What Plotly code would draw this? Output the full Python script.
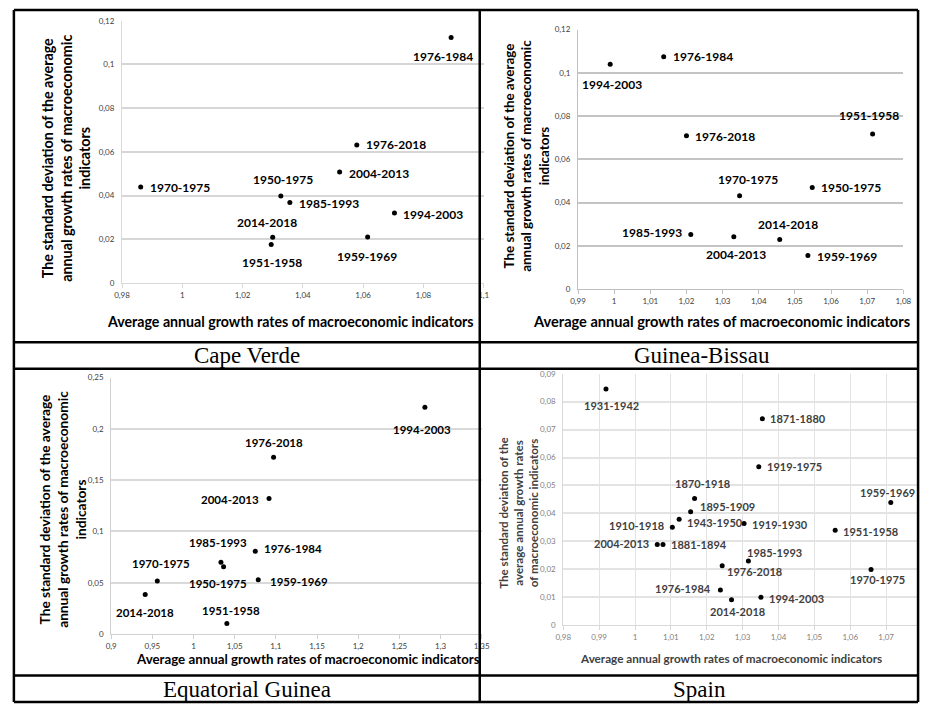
import plotly.graph_objects as go

# ---------------- DATA ----------------
CV_periods = ["1970-1975", "1950-1975", "1985-1993", "2014-2018", "1951-1958",
              "2004-2013", "1976-2018", "1959-1969", "1994-2003", "1976-1984"]
CV_x = [0.9862, 1.0327, 1.0357, 1.0300, 1.0295, 1.0522, 1.0579, 1.0615, 1.0704, 1.0892]
CV_y = [0.0439, 0.0398, 0.0368, 0.0209, 0.0176, 0.0508, 0.0632, 0.0211, 0.0320, 0.1123]

GB_periods = ["1994-2003", "1976-1984", "1976-2018", "1951-1958", "1970-1975",
              "1950-1975", "1985-1993", "2004-2013", "2014-2018", "1959-1969"]
GB_x = [0.9989, 1.0137, 1.0200, 1.0715, 1.0347, 1.0548, 1.0212, 1.0331, 1.0458, 1.0536]
GB_y = [0.1040, 0.1075, 0.0709, 0.0717, 0.0431, 0.0469, 0.0252, 0.0241, 0.0229, 0.0155]

EG_periods = ["1994-2003", "1976-2018", "2004-2013", "1976-1984", "1985-1993",
              "1950-1975", "1970-1975", "1959-1969", "2014-2018", "1951-1958"]
EG_x = [1.281, 1.0972, 1.0917, 1.0750, 1.0333, 1.0365, 0.9560, 1.0786, 0.9413, 1.0405]
EG_y = [0.2212, 0.1724, 0.1321, 0.0808, 0.0699, 0.0657, 0.0516, 0.0529, 0.0385, 0.0103]

ES_periods = ["1931-1942", "1871-1880", "1919-1975", "1870-1918", "1895-1909", "1943-1950",
              "1910-1918", "1919-1930", "2004-2013", "1881-1894", "1985-1993", "1976-2018",
              "1976-1984", "2014-2018", "1994-2003", "1951-1958", "1959-1969", "1970-1975"]
ES_x = [0.9919, 1.0355, 1.0345, 1.0166, 1.0155, 1.0123, 1.0104, 1.0304, 1.0062, 1.0078,
        1.0316, 1.0243, 1.0238, 1.0269, 1.0351, 1.0558, 1.0713, 1.0658]
ES_y = [0.0845, 0.0739, 0.0567, 0.0453, 0.0406, 0.0379, 0.0350, 0.0364, 0.0289, 0.0289,
        0.0230, 0.0213, 0.0126, 0.0091, 0.0100, 0.0340, 0.0439, 0.0199]

CV_xtickvals = [0.98, 1.0, 1.02, 1.04, 1.06, 1.08, 1.1]
CV_xticktext = ["0,98", "1", "1,02", "1,04", "1,06", "1,08", "1,1"]
CV_ytickvals = [0, 0.02, 0.04, 0.06, 0.08, 0.1, 0.12]
CV_yticktext = ["0", "0,02", "0,04", "0,06", "0,08", "0,1", "0,12"]

GB_xtickvals = [0.99, 1.0, 1.01, 1.02, 1.03, 1.04, 1.05, 1.06, 1.07, 1.08]
GB_xticktext = ["0,99", "1", "1,01", "1,02", "1,03", "1,04", "1,05", "1,06", "1,07", "1,08"]
GB_ytickvals = [0, 0.02, 0.04, 0.06, 0.08, 0.1, 0.12]
GB_yticktext = ["0", "0,02", "0,04", "0,06", "0,08", "0,1", "0,12"]

EG_xtickvals = [0.9, 0.95, 1.0, 1.05, 1.1, 1.15, 1.2, 1.25, 1.3, 1.35]
EG_xticktext = ["0,9", "0,95", "1", "1,05", "1,1", "1,15", "1,2", "1,25", "1,3", "1,35"]
EG_ytickvals = [0, 0.05, 0.1, 0.15, 0.2, 0.25]
EG_yticktext = ["0", "0,05", "0,1", "0,15", "0,2", "0,25"]

ES_xtickvals = [0.98, 0.99, 1.0, 1.01, 1.02, 1.03, 1.04, 1.05, 1.06, 1.07, 1.08]
ES_xticktext = ["0,98", "0,99", "1", "1,01", "1,02", "1,03", "1,04", "1,05", "1,06", "1,07", "1,08"]
ES_ytickvals = [0, 0.01, 0.02, 0.03, 0.04, 0.05, 0.06, 0.07, 0.08, 0.09]
ES_yticktext = ["0", "0,01", "0,02", "0,03", "0,04", "0,05", "0,06", "0,07", "0,08", "0,09"]

country_names = ["Cape Verde", "Guinea-Bissau", "Equatorial Guinea", "Spain"]
x_title = "Average annual growth rates of macroeconomic indicators"
y_title_3 = "The standard deviation of the average<br>annual growth rates of macroeconomic<br>indicators"
y_title_es = "The standard deviation of the<br>average annual growth rates<br>of macroeconomic indicators"

# ---------------- STYLES (label placement: anchor, dx px, dy px) ----------------
CV_place = [("l", 7, 0), ("c", 2, 17), ("l", 7, -1), ("c", -6, 15), ("c", 1, -18),
            ("l", 7, -1), ("l", 7, 0), ("c", -1, -20), ("l", 7, -1), ("c", -8, -19)]
GB_place = [("c", 2, -20), ("l", 7, 0), ("l", 7, -1), ("c", -4, 19), ("c", 8, 16),
            ("l", 7, 0), ("r", -7, 2), ("c", 2, -18), ("c", 8, 15), ("l", 7, -1)]
EG_place = [("c", -3, -22), ("c", 0, 15), ("r", -8, -1), ("l", 7, 3), ("c", -3, 20),
            ("c", -6, -17), ("c", 4, 18), ("l", 10, -2), ("c", 0, -18), ("c", 4, 13)]
ES_place = [("c", 6, -16), ("l", 6, 0), ("l", 6, 0), ("c", 8, 15), ("l", 7, 5), ("l", 6, -3),
            ("r", -6, 2), ("l", 6, -1), ("r", -6, 1), ("l", 6, 0), ("l", -3, 8), ("l", 3, -6),
            ("r", -7, 1), ("c", 6, -12), ("l", 6, -1), ("l", 6, -1), ("c", -3, 10), ("c", 6, -10)]

W, H = 930, 709
def px(v): return v / W
def py(v): return 1 - v / H

FONT = "Lato, Calibri, Carlito, sans-serif"

panels = [
    dict(periods=CV_periods, x=CV_x, y=CV_y, place=CV_place,
         xt=(CV_xtickvals, CV_xticktext), yt=(CV_ytickvals, CV_yticktext),
         xr=[0.98, 1.1], yr=[0, 0.12], xd=[116, 484], yd=[282, 16],
         grid="#d6d6d6", line="#d9d9d9", vgrid=False, lab_size=12, lab_color="#000000",
         tick_color="#404040"),
    dict(periods=GB_periods, x=GB_x, y=GB_y, place=GB_place,
         xt=(GB_xtickvals, GB_xticktext), yt=(GB_ytickvals, GB_yticktext),
         xr=[0.99, 1.08], yr=[0, 0.12], xd=[580, 911], yd=[288, 25],
         grid="#c4c4c4", line="#bfbfbf", vgrid=False, lab_size=12, lab_color="#000000",
         tick_color="#404040"),
    dict(periods=EG_periods, x=EG_x, y=EG_y, place=EG_place,
         xt=(EG_xtickvals, EG_xticktext), yt=(EG_ytickvals, EG_yticktext),
         xr=[0.9, 1.35], yr=[0, 0.25], xd=[105, 482], yd=[638, 378],
         grid="#d9d9d9", line="#d0d0d0", vgrid=False, lab_size=11.5, lab_color="#000000",
         tick_color="#404040"),
    dict(periods=ES_periods, x=ES_x, y=ES_y, place=ES_place,
         xt=(ES_xtickvals, ES_xticktext), yt=(ES_ytickvals, ES_yticktext),
         xr=[0.98, 1.08], yr=[0, 0.09], xd=[565, 930], yd=[629, 374],
         grid="#e3e3e3", line="#d9d9d9", vgrid=True, lab_size=11, lab_color="#404040",
         tick_color="#7f7f7f"),
]

fig = go.Figure()
annotations = []
layout = dict(width=W, height=H, margin=dict(l=0, r=0, t=0, b=0),
              paper_bgcolor="white", plot_bgcolor="white", showlegend=False)

for i, p in enumerate(panels, start=1):
    xa = "x" if i == 1 else f"x{i}"
    ya = "y" if i == 1 else f"y{i}"
    fig.add_trace(go.Scatter(x=p["x"], y=p["y"], mode="markers", xaxis=xa, yaxis=ya,
                             marker=dict(color="black", size=5), hoverinfo="skip",
                             cliponaxis=False))
    layout["xaxis" if i == 1 else f"xaxis{i}"] = dict(
        domain=[px(p["xd"][0]), px(p["xd"][1])], range=p["xr"], anchor=ya,
        tickvals=p["xt"][0], ticktext=p["xt"][1], showgrid=p["vgrid"], gridcolor=p["grid"],
        zeroline=False, showline=True, linecolor=p["line"], ticks="outside", ticklen=4,
        tickcolor=p["line"], tickfont=dict(family=FONT, size=8, color=p["tick_color"]),
        fixedrange=True)
    layout["yaxis" if i == 1 else f"yaxis{i}"] = dict(
        domain=[py(p["yd"][0]), py(p["yd"][1])], range=p["yr"], anchor=xa,
        tickvals=p["yt"][0], ticktext=p["yt"][1], showgrid=True, gridcolor=p["grid"],
        gridwidth=1.5, zeroline=False, showline=True, linecolor=p["line"], ticks="",
        ticklabelstandoff=5, tickfont=dict(family=FONT, size=8, color=p["tick_color"]),
        fixedrange=True)
    for per, xv, yv, (anc, dx, dy) in zip(p["periods"], p["x"], p["y"], p["place"]):
        annotations.append(dict(
            x=xv, y=yv, xref=xa, yref=ya, text=f"<b>{per}</b>", showarrow=False,
            xanchor={"c": "center", "l": "left", "r": "right"}[anc], yanchor="middle",
            xshift=dx, yshift=dy,
            font=dict(family=FONT, size=p["lab_size"], color=p["lab_color"])))

# axis titles (paper coordinates)
title_specs = [
    dict(x=59, y=155, text=y_title_3, size=14.3, angle=-90, color="#000000"),
    dict(x=528, y=153, text=y_title_3, size=13.4, angle=-90, color="#000000"),
    dict(x=56, y=512, text=y_title_3, size=13.7, angle=-90, color="#000000"),
    dict(x=520, y=515, text=y_title_es, size=11.6, angle=-90, color="#404040"),
    dict(x=287, y=321, text=x_title, size=14.2, angle=0, color="#000000"),
    dict(x=726, y=321, text=x_title, size=14.6, angle=0, color="#000000"),
    dict(x=305, y=663, text=x_title, size=13.3, angle=0, color="#000000"),
    dict(x=736, y=662, text=x_title, size=11.7, angle=0, color="#404040"),
]
for t in title_specs:
    annotations.append(dict(x=px(t["x"]), y=py(t["y"]), xref="paper", yref="paper",
                            text=f"<b>{t['text']}</b>", showarrow=False, textangle=t["angle"],
                            xanchor="center", yanchor="middle",
                            font=dict(family=FONT, size=t["size"], color=t["color"])))

for name, (cx, cy) in zip(country_names, [(243, 356), (706, 356), (243, 694), (704, 694)]):
    annotations.append(dict(x=px(cx), y=py(cy), xref="paper", yref="paper", text=name,
                            showarrow=False, xanchor="center", yanchor="middle",
                            font=dict(family="Liberation Serif, Times New Roman, serif",
                                      size=23, color="black")))

layout["annotations"] = annotations

# table lines
L, R, T, B, MID = 6, 926, 5, 707, 480
shapes = []
def seg(x0, y0, x1, y1):
    shapes.append(dict(type="line", xref="paper", yref="paper", x0=px(x0), y0=py(y0),
                       x1=px(x1), y1=py(y1), line=dict(color="black", width=2.5),
                       layer="above"))
seg(L, T, R, T); seg(L, B, R, B); seg(L, T, L, B); seg(R, T, R, B); seg(MID, T, MID, B)
for yy in [342, 369, 680]:
    seg(L, yy, R, yy)
shapes.insert(0, dict(type="rect", xref="paper", yref="paper", x0=px(R + 1), x1=1.0,
                      y0=0, y1=1, fillcolor="white", line=dict(width=0), layer="above"))
layout["shapes"] = shapes

fig.update_layout(**layout)
fig.write_html("out.html", config={"displayModeBar": False},
               post_script="document.body.style.margin='0';document.body.style.padding='0';"
                           "document.body.style.overflow='hidden';")
